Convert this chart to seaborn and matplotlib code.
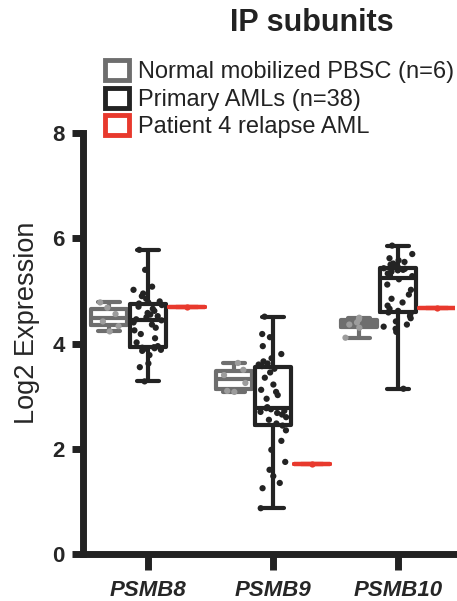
import numpy as np
import pandas as pd
import matplotlib
matplotlib.use("Agg")
import matplotlib.pyplot as plt
from matplotlib.patches import Patch
import seaborn as sns

genes = ["PSMB8", "PSMB9", "PSMB10"]
groups = ["Normal mobilized PBSC (n=6)", "Primary AMLs (n=38)", "Patient 4 relapse AML"]

# Normal PBSC (n=6)
normal_psmb8 = [4.23, 4.33, 4.42, 4.56, 4.68, 4.78]
normal_psmb9 = [3.08, 3.10, 3.25, 3.40, 3.50, 3.63]
normal_psmb10 = [4.11, 4.30, 4.36, 4.40, 4.46, 4.49]

# Primary AMLs (n=38)
aml_psmb8 = [3.28, 3.55, 3.62, 3.78, 3.86, 3.88, 3.90, 3.91, 3.92, 3.93,
             3.95, 4.02, 4.10, 4.18, 4.25, 4.30, 4.36, 4.40, 4.44,
             4.46, 4.50, 4.52, 4.55, 4.58, 4.62, 4.66, 4.70, 4.73,
             4.76, 4.78, 4.80, 4.85, 4.90, 4.95, 5.02, 5.08, 5.40, 5.78]
aml_psmb9 = [0.87, 1.25, 1.35, 1.48, 1.60, 1.75, 1.98, 2.15, 2.35, 2.44,
             2.48, 2.55, 2.60, 2.65, 2.68, 2.70, 2.72, 2.75, 2.77,
             2.79, 2.95, 3.02, 3.08, 3.12, 3.22, 3.35, 3.45, 3.52,
             3.57, 3.60, 3.62, 3.66, 3.72, 3.80, 3.95, 4.12, 4.18, 4.51]
aml_psmb10 = [3.14, 4.22, 4.28, 4.32, 4.36, 4.42, 4.48, 4.52, 4.56, 4.59,
              4.62, 4.66, 4.72, 4.78, 4.85, 4.93, 5.02, 5.12, 5.22,
              5.28, 5.30, 5.33, 5.35, 5.37, 5.39, 5.40, 5.41, 5.42,
              5.43, 5.45, 5.47, 5.50, 5.52, 5.55, 5.58, 5.62, 5.70, 5.86]

# Patient 4 relapse
relapse = [4.70, 1.71, 4.68]

rows = []
for gene, vals in zip(genes, [normal_psmb8, normal_psmb9, normal_psmb10]):
    rows += [(gene, groups[0], v) for v in vals]
for gene, vals in zip(genes, [aml_psmb8, aml_psmb9, aml_psmb10]):
    rows += [(gene, groups[1], v) for v in vals]
for gene, v in zip(genes, relapse):
    rows.append((gene, groups[2], v))
df = pd.DataFrame(rows, columns=["gene", "group", "value"])

box_colors = {groups[0]: "#6e6e6e", groups[1]: "#232323", groups[2]: "#e8392d"}
dot_colors = {groups[0]: "#9c9c9c", groups[1]: "#232323", groups[2]: "#e8392d"}

sns.set_style("ticks")
plt.rcParams["font.family"] = ["Liberation Sans", "DejaVu Sans"]
plt.rcParams["text.color"] = "#222222"

fig = plt.figure(figsize=(4.57, 6.01), dpi=100)
ax = fig.add_axes([83 / 457, 47 / 601, 372 / 457, 421 / 601])

box_w = 0.93
gap = 0.07
sns.boxplot(data=df, x="gene", y="value", hue="group", order=genes, hue_order=groups,
            palette=box_colors, fill=False, width=box_w, gap=gap, whis=(0, 100),
            linewidth=3, showfliers=False, legend=False, ax=ax)

# widen the whisker caps a bit (about 60% of the box)
one_box = box_w / len(groups) * (1 - gap)
for line in ax.lines:
    x = np.asarray(line.get_xdata(), dtype=float)
    y = np.asarray(line.get_ydata(), dtype=float)
    if len(x) == 2 and y[0] == y[1] and 0 < abs(x[1] - x[0]) < 0.8 * one_box:
        mid = x.mean()
        line.set_xdata([mid - 0.3 * one_box, mid + 0.3 * one_box])

n_before = len(ax.collections)
sns.stripplot(data=df, x="gene", y="value", hue="group", order=genes, hue_order=groups,
              palette=dot_colors, dodge=True, jitter=0.3, size=4.5, linewidth=0,
              legend=False, ax=ax)
# stripplot dodges with width 0.8, stretch to match the boxes
for coll in ax.collections[n_before:]:
    off = coll.get_offsets().copy()
    if len(off) == 0:
        continue
    c = np.round(off[:, 0])
    off[:, 0] = c + (off[:, 0] - c) * box_w / 0.8
    coll.set_offsets(off)

ax.set_xlim(-0.52, 2.456)
ax.set_ylim(0, 8)
ax.set_yticks([0, 2, 4, 6, 8])
ax.set_xlabel("")
ax.set_ylabel("Log2 Expression", fontsize=19.5)
ax.yaxis.set_label_coords(-0.115, 0.55)
sns.despine(ax=ax)
for s in ["left", "bottom"]:
    ax.spines[s].set_linewidth(5)
    ax.spines[s].set_color("#222222")
ax.tick_params(width=5, color="#222222", labelsize=16)
ax.tick_params(axis="y", length=8, pad=5)
ax.tick_params(axis="x", length=11.5, pad=7)
for lbl in ax.get_yticklabels():
    lbl.set_fontweight("bold")
for lbl in ax.get_xticklabels():
    lbl.set_fontweight("bold")
    lbl.set_fontstyle("italic")

fig.text(312 / 457, 1 - 23 / 601, "IP subunits", fontsize=22, fontweight="bold",
         ha="center", va="center")

handles = [Patch(facecolor="white", edgecolor=box_colors[g], linewidth=3.5, label=g)
           for g in groups]
fig.legend(handles=handles, loc="upper left", bbox_to_anchor=(104.5 / 457, 1 - 60 / 601),
           frameon=False, fontsize=17, handlelength=1.02, handleheight=0.93,
           handletextpad=0.4, labelspacing=0.19, borderpad=0, borderaxespad=0)

fig.savefig("out.png", dpi=100)
